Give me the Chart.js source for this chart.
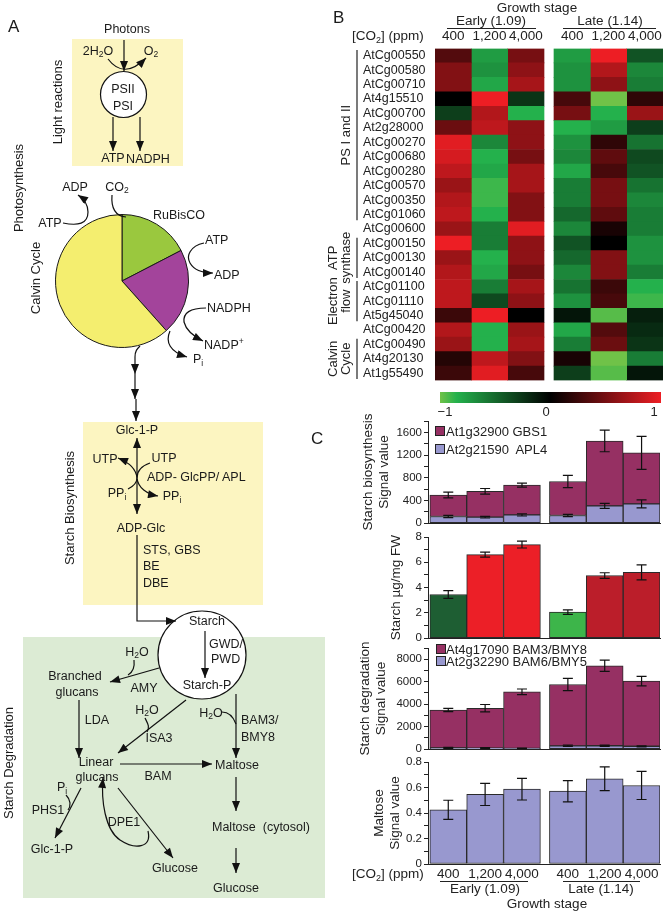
<!DOCTYPE html>
<html><head><meta charset="utf-8">
<script src="https://cdn.jsdelivr.net/npm/chart.js@4.4.1/dist/chart.umd.min.js"></script>
<style>
html,body{margin:0;padding:0;background:#fff;}
#root{position:relative;width:667px;height:914px;overflow:hidden;font-family:"Liberation Sans",Arial,sans-serif;color:#222;background:#fff;}
canvas{position:absolute;z-index:1;}
.t{position:absolute;white-space:nowrap;font-size:13.5px;line-height:1;z-index:4;}
.c{transform:translate(-50%,-50%);}
.l{transform:translate(0,-50%);}
.hl{position:absolute;height:1px;background:#222;z-index:4;}
.box{position:absolute;width:8px;height:8px;border:1px solid #222;z-index:4;}
sub{font-size:9px;vertical-align:-3px;line-height:0;}
#diag{position:absolute;left:0;top:0;z-index:3;}
</style></head>
<body><div id="root">
<svg id="diag" width="667" height="914" xmlns="http://www.w3.org/2000/svg">
<defs>
<marker id="ah" viewBox="0 0 10 8" refX="10" refY="4" markerWidth="11" markerHeight="8" markerUnits="userSpaceOnUse" orient="auto-start-reverse"><path d="M0,0 L10,4 L0,8 z" fill="#111"/></marker>
</defs>
<rect x="72" y="39" width="111" height="127" fill="#fcf5c1"/>
<rect x="83" y="422" width="180" height="183" fill="#fcf5c1"/>
<rect x="23" y="637" width="302" height="261" fill="#dcebd4"/>
<g fill="#fff" stroke="#111" stroke-width="1.2">
<circle cx="123.5" cy="94.5" r="23"/>
<circle cx="202" cy="655" r="44"/>
</g>
<g font-family="Liberation Sans, Arial, sans-serif" font-size="12.5" fill="#1a1a1a" dominant-baseline="central">
<text x="8" y="26" font-size="17">A</text>
<text x="333" y="17" font-size="17">B</text>
<text x="311" y="438" font-size="17">C</text>
<text x="57" y="102" text-anchor="middle" font-size="13" transform="rotate(-90 57 102)">Light reactions</text>
<text x="18" y="188" text-anchor="middle" font-size="13" transform="rotate(-90 18 188)">Photosynthesis</text>
<text x="35" y="278" text-anchor="middle" font-size="13" transform="rotate(-90 35 278)">Calvin Cycle</text>
<text x="69" y="508" text-anchor="middle" font-size="13" transform="rotate(-90 69 508)">Starch Biosynthesis</text>
<text x="8" y="763" text-anchor="middle" font-size="13" transform="rotate(-90 8 763)">Starch Degradation</text>
<text x="127" y="29" text-anchor="middle">Photons</text>
<text x="98" y="51" text-anchor="middle">2H<tspan font-size="8.5" dy="3">2</tspan><tspan dy="-3">O</tspan></text>
<text x="151" y="51" text-anchor="middle">O<tspan font-size="8.5" dy="3">2</tspan></text>
<text x="123" y="89" text-anchor="middle">PSII</text>
<text x="123" y="106" text-anchor="middle">PSI</text>
<text x="113" y="158" text-anchor="middle">ATP</text>
<text x="148" y="159" text-anchor="middle">NADPH</text>
<text x="75" y="187" text-anchor="middle">ADP</text>
<text x="117" y="187" text-anchor="middle">CO<tspan font-size="8.5" dy="3">2</tspan></text>
<text x="50" y="223" text-anchor="middle">ATP</text>
<text x="179" y="215" text-anchor="middle">RuBisCO</text>
<text x="205" y="240">ATP</text>
<text x="214" y="275">ADP</text>
<text x="207" y="308">NADPH</text>
<text x="204" y="345">NADP<tspan font-size="8.5" dy="-4">+</tspan></text>
<text x="193" y="359">P<tspan font-size="8.5" dy="4">i</tspan></text>
<text x="137" y="430" text-anchor="middle">Glc-1-P</text>
<text x="105" y="459" text-anchor="middle">UTP</text>
<text x="164" y="458" text-anchor="middle">UTP</text>
<text x="147" y="477">ADP- GlcPP/ APL</text>
<text x="117" y="493" text-anchor="middle">PP<tspan font-size="8.5" dy="4">i</tspan></text>
<text x="172" y="496" text-anchor="middle">PP<tspan font-size="8.5" dy="4">i</tspan></text>
<text x="141" y="528" text-anchor="middle">ADP-Glc</text>
<text x="143" y="550">STS, GBS</text>
<text x="143" y="566">BE</text>
<text x="143" y="583">DBE</text>
<text x="137" y="652" text-anchor="middle">H<tspan font-size="8.5" dy="3">2</tspan><tspan dy="-3">O</tspan></text>
<text x="75" y="676" text-anchor="middle">Branched</text>
<text x="77" y="692" text-anchor="middle">glucans</text>
<text x="144" y="688" text-anchor="middle">AMY</text>
<text x="97" y="720" text-anchor="middle">LDA</text>
<text x="147" y="710" text-anchor="middle">H<tspan font-size="8.5" dy="3">2</tspan><tspan dy="-3">O</tspan></text>
<text x="159" y="738" text-anchor="middle">ISA3</text>
<text x="211" y="713" text-anchor="middle">H<tspan font-size="8.5" dy="3">2</tspan><tspan dy="-3">O</tspan></text>
<text x="241" y="720">BAM3/</text>
<text x="241" y="737">BMY8</text>
<text x="96" y="762" text-anchor="middle">Linear</text>
<text x="97" y="777" text-anchor="middle">glucans</text>
<text x="158" y="776" text-anchor="middle">BAM</text>
<text x="237" y="765" text-anchor="middle">Maltose</text>
<text x="212" y="827" xml:space="preserve">Maltose  (cytosol)</text>
<text x="236" y="888" text-anchor="middle">Glucose</text>
<text x="62" y="787" text-anchor="middle">P<tspan font-size="8.5" dy="4">i</tspan></text>
<text x="48" y="810" text-anchor="middle">PHS1</text>
<text x="52" y="849" text-anchor="middle">Glc-1-P</text>
<text x="175" y="868" text-anchor="middle">Glucose</text>
<text x="124" y="822" text-anchor="middle">DPE1</text>
<text x="207" y="621" text-anchor="middle">Starch</text>
<text x="207" y="685" text-anchor="middle">Starch-P</text>
<text x="209" y="644">GWD/</text>
<text x="211" y="659">PWD</text>
</g>
<g fill="none" stroke="#111" stroke-width="1.2">
<line x1="124" y1="40" x2="124" y2="71" marker-end="url(#ah)"/>
<path d="M108,59 Q124,80 146,58" marker-end="url(#ah)"/>
<line x1="113" y1="117" x2="113" y2="151" marker-end="url(#ah)"/>
<line x1="140" y1="117" x2="140" y2="151" marker-end="url(#ah)"/>
<path d="M63,223 C78,226 88,224 88,212 C88,204 84,199 78,195" marker-end="url(#ah)"/>
<path d="M112,195 C111,208 115,216 126,217"/>
<path d="M204,243 C190,246 186,256 190,263 C194,270 202,273 213,273" marker-end="url(#ah)"/>
<path d="M206,308 C190,308 183,313 184,322 C186,330 193,336 203,341" marker-end="url(#ah)"/>
<path d="M170,331 C165,342 170,352 187,357" marker-end="url(#ah)"/>
<path d="M140,346 C137,349 135,351 135,357 L135,374" marker-end="url(#ah)"/>
<line x1="135" y1="374" x2="135" y2="399" marker-end="url(#ah)"/>
<line x1="136" y1="399" x2="136" y2="421" marker-end="url(#ah)"/>
<line x1="137" y1="438" x2="137" y2="514" marker-start="url(#ah)" marker-end="url(#ah)"/>
<path d="M150,463 C141,466 137,471 137,478 C136,468 128,462 118,458" marker-end="url(#ah)"/>
<path d="M128,489 C134,486 137,483 137,478 C138,488 147,494 158,496" marker-end="url(#ah)"/>
<path d="M137,535 L137,621 L176,621" marker-end="url(#ah)"/>
<line x1="205" y1="631" x2="205" y2="678" marker-end="url(#ah)"/>
<path d="M134,660 C135,668 133,672 128,675"/>
<line x1="159" y1="668" x2="110" y2="682" marker-end="url(#ah)"/>
<line x1="79" y1="700" x2="79" y2="758" marker-end="url(#ah)"/>
<path d="M145,718 C148,724 150,727 147,732"/>
<line x1="186" y1="700" x2="118" y2="753" marker-end="url(#ah)"/>
<path d="M222,712 C229,712 233,716 236,724"/>
<line x1="236" y1="694" x2="236" y2="758" marker-end="url(#ah)"/>
<line x1="120" y1="764" x2="212" y2="764" marker-end="url(#ah)"/>
<line x1="236" y1="777" x2="236" y2="811" marker-end="url(#ah)"/>
<line x1="236" y1="848" x2="236" y2="873" marker-end="url(#ah)"/>
<line x1="81" y1="788" x2="55" y2="838" marker-end="url(#ah)"/>
<path d="M66,795 C71,800 71,806 68,810"/>
<line x1="118" y1="788" x2="173" y2="858" marker-end="url(#ah)"/>
<path d="M148,831 C152,848 135,850 120,840 C105,830 101,800 103,778" marker-end="url(#ah)"/>
</g>
<g id="brackets" stroke="#222" stroke-width="1.2"></g>
<g font-family="Liberation Sans, Arial, sans-serif" font-size="13" fill="#222" dominant-baseline="central" text-anchor="middle" id="grpLabels"></g>
</svg>

<canvas id="pie" width="134" height="134" style="left:55px;top:214px"></canvas>
<canvas id="heat" width="304" height="347" style="left:363px;top:41px"></canvas>

<div class="t c" style="left:537px;top:8px">Growth stage</div>
<div class="t c" style="left:491px;top:21px">Early (1.09)</div>
<div class="hl" style="left:447px;top:28px;width:89px"></div>
<div class="t c" style="left:610px;top:21px">Late (1.14)</div>
<div class="hl" style="left:563px;top:28px;width:93px"></div>
<div class="t l" style="left:352px;top:36px">[CO<sub>2</sub>] (ppm)</div>
<div id="colHeads"></div>

<div id="cbar" style="position:absolute;left:440px;top:392px;width:221px;height:11px;z-index:4"></div>
<div class="t c" style="left:445px;top:411px;font-size:13px">−1</div>
<div class="t c" style="left:546px;top:411px;font-size:13px">0</div>
<div class="t c" style="left:654px;top:411px;font-size:13px">1</div>

<canvas id="c1" width="317" height="120" style="left:350px;top:412px"></canvas>
<canvas id="c2" width="317" height="119" style="left:350px;top:528px"></canvas>
<canvas id="c3" width="317" height="119" style="left:350px;top:639px"></canvas>
<canvas id="c4" width="317" height="131" style="left:350px;top:753px"></canvas>

<div class="box" style="left:435px;top:426px;background:#963063"></div>
<div class="t l" style="left:446px;top:431px;font-size:13px">At1g32900 GBS1</div>
<div class="box" style="left:435px;top:444px;background:#9898cf"></div>
<div class="t l" style="left:446px;top:449px;font-size:13px">At2g21590&nbsp; APL4</div>
<div class="box" style="left:436px;top:644px;background:#963063"></div>
<div class="t l" style="left:446px;top:649px;font-size:13px">At4g17090 BAM3/BMY8</div>
<div class="box" style="left:436px;top:656px;background:#9898cf"></div>
<div class="t l" style="left:446px;top:661px;font-size:13px">At2g32290 BAM6/BMY5</div>

<div class="t l" style="left:352px;top:874px">[CO<sub>2</sub>] (ppm)</div>
<div class="hl" style="left:440px;top:881px;width:88px"></div>
<div class="hl" style="left:563px;top:881px;width:77px"></div>
<div class="t c" style="left:485px;top:889px">Early (1.09)</div>
<div class="t c" style="left:601px;top:889px">Late (1.14)</div>
<div class="t c" style="left:547px;top:904px">Growth stage</div>
</div>
<script>
// ---------- data ----------
const calvinParts = ['RuBisCO', 'ATP/NADPH use', 'Regeneration'];
const calvinShares = [17.4, 21.0, 61.6];

const genes = ['AtCg00550','AtCg00580','AtCg00710','At4g15510','AtCg00700','At2g28000','AtCg00270','AtCg00680','AtCg00280','AtCg00570','AtCg00350','AtCg01060','AtCg00600','AtCg00150','AtCg00130','AtCg00140','AtCg01100','AtCg01110','At5g45040','AtCg00420','AtCg00490','At4g20130','At1g55490'];
const early400  = [0.35,0.55,0.55,0.0,-0.3,0.45,0.95,0.9,0.8,0.65,0.75,0.8,0.65,1.0,0.65,0.75,0.8,0.8,0.25,0.75,0.65,0.15,0.25];
const early1200 = [-0.75,-0.7,-0.8,1.0,0.75,0.8,-0.65,-0.85,-0.8,-0.9,-0.9,-0.85,-0.6,-0.6,-0.85,-0.8,-0.6,-0.35,1.0,-0.85,-0.85,0.8,0.95];
const early4000 = [0.5,0.6,0.7,-0.25,-0.85,0.6,0.6,0.5,0.7,0.7,0.55,0.55,0.95,0.6,0.6,0.5,0.7,0.6,0.0,0.65,0.7,0.55,0.3];
const late400   = [-0.75,-0.7,-0.7,0.3,0.5,-0.85,-0.7,-0.65,-0.8,-0.6,-0.6,-0.5,-0.65,-0.4,-0.5,-0.65,-0.55,-0.7,-0.1,-0.8,-0.6,0.1,-0.3];
const late1200  = [1.0,0.75,0.6,-1.0,-0.85,-0.75,0.2,0.4,0.3,0.5,0.5,0.4,0.1,0.0,0.55,0.55,0.25,0.3,-0.95,0.35,0.45,-1.0,-0.95];
const late4000  = [-0.4,-0.65,-0.6,0.2,0.65,-0.3,-0.55,-0.35,-0.4,-0.55,-0.65,-0.6,-0.6,-0.7,-0.7,-0.6,-0.85,-0.9,-0.15,-0.2,-0.25,-0.6,-0.1];
const geneGroups = [
  {lines:['PS I and II'], first:0, last:11},
  {lines:['ATP','synthase'], first:13, last:15},
  {lines:['Electron','flow'], first:16, last:18},
  {lines:['Calvin','Cycle'], first:20, last:22}
];

const co2Levels = ['400','1,200','4,000','400','1,200','4,000'];

const gbs1    = [380,455,525,600,1145,900];
const gbs1Err = [50,50,35,108,190,290];
const apl4    = [116,105,145,134,303,338];
const apl4Err = [20,15,20,20,44,70];
const starch    = [3.45,6.6,7.4,2.05,4.95,5.2];
const starchErr = [0.3,0.2,0.27,0.18,0.22,0.6];
const bam3    = [3370,3550,5030,5460,7120,5800];
const bam3Err = [150,330,250,550,500,430];
const bam6    = [110,90,70,290,300,250];
const bam6Err = [50,40,30,60,60,50];
const maltose    = [0.425,0.546,0.587,0.571,0.668,0.616];
const maltoseErr = [0.075,0.087,0.085,0.083,0.093,0.11];

const bioTicks = [0,200,400,600,800,1000,1200,1400,1600,1800];
const bioLabels = ['0','','400','','800','','1200','','1600',''];
const starchTicks = [0,1,2,3,4,5,6,7,8];
const starchLabels = ['0','','2','','4','','6','','8'];
const degTicks = [0,1000,2000,3000,4000,5000,6000,7000,8000,9000];
const degLabels = ['0','','2000','','4000','','6000','','8000',''];
const maltTicks = [0,0.1,0.2,0.3,0.4,0.5,0.6,0.7,0.8];
const maltLabels = ['0','','0.2','','0.4','','0.6','','0.8'];

// ---------- styles ----------
Chart.defaults.font.family = '"Liberation Sans", Arial, sans-serif';
Chart.defaults.color = '#222';
const PURPLE = '#963063', LAV = '#9898cf';
const starchColors = ['#1e5e33','#ec1f27','#ec1f27','#3db54a','#bb1e2a','#bb1e2a'];
const heatStops = [[-1,[112,194,72]],[-0.85,[36,177,76]],[0,[0,0,0]],[1,[237,30,36]]];
function heatColor(v){
  for (let k=0;k<heatStops.length-1;k++){
    const [a,ca]=heatStops[k],[b,cb]=heatStops[k+1];
    if (v>=a && v<=b){const t=(v-a)/(b-a);const c=ca.map((x,j)=>Math.round(x+(cb[j]-x)*t));return `rgb(${c[0]},${c[1]},${c[2]})`;}
  }
  return v<0?'rgb(112,194,72)':'rgb(237,30,36)';
}
document.getElementById('cbar').style.background =
  'linear-gradient(to right,' + heatStops.map(([v,c])=>`rgb(${c.join(',')}) ${((v+1)/2*100).toFixed(1)}%`).join(',') + ')';

// ---------- pie ----------
new Chart(document.getElementById('pie'), {
  type:'pie',
  data:{labels:calvinParts, datasets:[{data:calvinShares, backgroundColor:['#9ac83e','#a3449b','#f4ee6f'], borderColor:'#1a1a1a', borderWidth:1}]},
  options:{responsive:false, animation:false, devicePixelRatio:1, plugins:{legend:{display:false}, tooltip:{enabled:false}}}
});

// ---------- heatmap ----------
const hmCols = [early400, early1200, early4000, late400, late1200, late4000];
const hmGap = 0.275;
const hmSets = [];
hmCols.forEach((col,c)=>{
  if (c===3) hmSets.push({data:genes.map(()=>hmGap), backgroundColor:'rgba(0,0,0,0)', borderWidth:0, stack:'s'});
  hmSets.push({data:genes.map(()=>1), backgroundColor:col.map(heatColor), borderWidth:0, stack:'s'});
});
const heat = new Chart(document.getElementById('heat'), {
  type:'bar',
  data:{labels:genes, datasets:hmSets},
  options:{
    indexAxis:'y', responsive:false, animation:false, devicePixelRatio:1,
    datasets:{bar:{barPercentage:1, categoryPercentage:1}},
    layout:{padding:{top:5,right:4,bottom:0,left:0}},
    plugins:{legend:{display:false}, tooltip:{enabled:false}},
    scales:{
      x:{stacked:true, min:0, max:6+hmGap, display:false},
      y:{stacked:true, grid:{display:false}, border:{display:false},
         ticks:{crossAlign:'far', font:{size:12.5}, color:'#222', padding:0, autoSkip:false},
         afterFit:s=>{s.width=72;}}
    }
  }
});
// column headers & group brackets from the heatmap scales
(function(){
  const xs = heat.scales.x, ys = heat.scales.y;
  const heads = document.getElementById('colHeads');
  co2Levels.forEach((lab,c)=>{
    const center = c + (c>=3?hmGap:0) + 0.5;
    const d = document.createElement('div');
    d.className='t c'; d.textContent=lab;
    d.style.left = (363 + xs.getPixelForValue(center))+'px'; d.style.top='36px';
    heads.appendChild(d);
  });
  const NS='http://www.w3.org/2000/svg';
  const br=document.getElementById('brackets'), gl=document.getElementById('grpLabels');
  const half = (ys.getPixelForValue(1)-ys.getPixelForValue(0))/2;
  geneGroups.forEach(g=>{
    const y0 = 41 + ys.getPixelForValue(g.first) - half + 1.5;
    const y1 = 41 + ys.getPixelForValue(g.last) + half - 1.5;
    const ln=document.createElementNS(NS,'line');
    ln.setAttribute('x1',357);ln.setAttribute('x2',357);ln.setAttribute('y1',y0);ln.setAttribute('y2',y1);
    br.appendChild(ln);
    const cy=(y0+y1)/2;
    g.lines.forEach((t,k)=>{
      const x = g.lines.length===1 ? 346 : 333 + k*13;
      const tx=document.createElementNS(NS,'text');
      tx.setAttribute('x',x);tx.setAttribute('y',cy);
      tx.setAttribute('transform',`rotate(-90 ${x} ${cy})`);
      tx.textContent=t; gl.appendChild(tx);
    });
  });
})();

// ---------- bar charts ----------
const stageGap = 0.245;
const xPos = co2Levels.map((_,i)=> i + (i>=3?stageGap:0));
const errorBars = {
  id:'errorBars',
  afterDatasetsDraw(chart){
    const ctx=chart.ctx, ys=chart.scales.y;
    chart.data.datasets.forEach((ds,di)=>{
      if(!ds.errors) return;
      const meta=chart.getDatasetMeta(di);
      meta.data.forEach((bar,i)=>{
        const v = ys.getValueForPixel(bar.y), e = ds.errors[i];
        const hi=ys.getPixelForValue(v+e), lo=ys.getPixelForValue(v-e);
        ctx.save(); ctx.strokeStyle='#111'; ctx.lineWidth=1.2;
        ctx.beginPath();
        ctx.moveTo(bar.x,hi); ctx.lineTo(bar.x,lo);
        ctx.moveTo(bar.x-5,hi); ctx.lineTo(bar.x+5,hi);
        ctx.moveTo(bar.x-5,lo); ctx.lineTo(bar.x+5,lo);
        ctx.stroke(); ctx.restore();
      });
    });
  }
};
function barChart(id, datasets, yTickVals, yTickLabels, title, titlePad, showX){
  return new Chart(document.getElementById(id), {
    type:'bar',
    data:{datasets: datasets.map(d=>Object.assign({
      borderColor:'#2a2a2a', borderWidth:1, borderSkipped:false, stack:'s',
      barPercentage:1, categoryPercentage:1
    }, d, {data: d.values.map((v,i)=>({x:xPos[i], y:v}))}))},
    options:{
      responsive:false, animation:false, devicePixelRatio:1,
      layout:{padding:{top:9,right:7,bottom:0,left:0}},
      plugins:{legend:{display:false}, tooltip:{enabled:false}},
      scales:{
        x:{type:'linear', stacked:true, offset:false, min:-0.55, max:5.5+stageGap,
           grid:{display:false, offset:false, drawTicks:false}, border:{display:true,color:'#222',width:1},
           afterBuildTicks:s=>{s.ticks = xPos.map(v=>({value:v}));},
           ticks:{display:showX, autoSkip:false, maxRotation:0, font:{size:13.5}, color:'#222', padding:2,
                  callback:(v,i)=>co2Levels[i]},
           afterFit:s=>{s.height = showX?20:8;}},
        y:{stacked:true, min:yTickVals[0], max:yTickVals[yTickVals.length-1],
           afterBuildTicks:s=>{s.ticks = yTickVals.map(v=>({value:v}));},
           grid:{display:true, drawOnChartArea:false, drawTicks:true, tickLength:4, color:'#222'},
           border:{display:true,color:'#222',width:1},
           ticks:{autoSkip:false, font:{size:11.5}, color:'#222', padding:2, callback:(v,i)=>yTickLabels[i]},
           title:{display:true, text:title, font:{size:13.5}, color:'#222', padding:{top:titlePad,bottom:0}},
           afterFit:s=>{s.width=78;}}
      }
    },
    plugins:[errorBars]
  });
}
barChart('c1', [
  {values:apl4, errors:apl4Err, backgroundColor:LAV},
  {values:gbs1, errors:gbs1Err, backgroundColor:PURPLE}
], bioTicks, bioLabels, ['Starch biosynthesis','Signal value'], 10, false);
barChart('c2', [
  {values:starch, errors:starchErr, backgroundColor:starchColors}
], starchTicks, starchLabels, 'Starch µg/mg FW', 38, false);
barChart('c3', [
  {values:bam6, errors:bam6Err, backgroundColor:LAV},
  {values:bam3, errors:bam3Err, backgroundColor:PURPLE}
], degTicks, degLabels, ['Starch degradation','Signal value'], 7, false);
barChart('c4', [
  {values:maltose, errors:maltoseErr, backgroundColor:LAV}
], maltTicks, maltLabels, ['Maltose','Signal value'], 21, true);
</script>
</body></html>
